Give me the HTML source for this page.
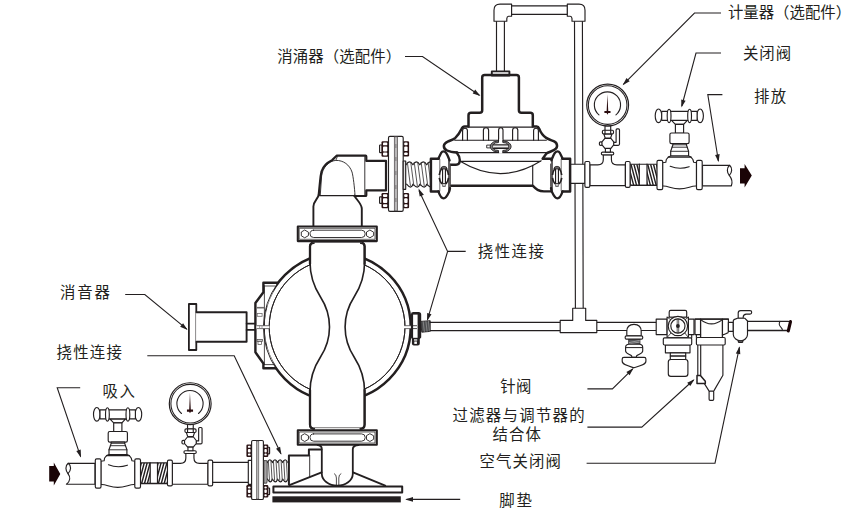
<!DOCTYPE html>
<html lang="zh">
<head>
<meta charset="utf-8">
<title>泵安装示意图</title>
<style>
html,body{margin:0;padding:0;background:#fff;}
body{width:852px;height:519px;overflow:hidden;font-family:"Liberation Sans",sans-serif;}
svg{display:block;position:absolute;left:0;top:0;}
.t{stroke:#231f20;stroke-width:1.15;fill:#fff;stroke-linejoin:round;stroke-linecap:round;}
.k{stroke:#231f20;stroke-width:2.4;fill:#fff;stroke-linejoin:round;stroke-linecap:round;}
.m{stroke:#231f20;stroke-width:1.5;fill:#fff;stroke-linejoin:round;stroke-linecap:round;}
.n{fill:none;}
.l{stroke:#231f20;stroke-width:1.1;fill:none;}
.b{fill:#231f20;stroke:none;}
.g{fill:#a7a5a6;}
.lbl{position:absolute;margin:0;color:#231f20;font-family:"Liberation Sans","Noto Sans CJK SC",sans-serif;font-size:15.4px;line-height:16px;letter-spacing:0.45px;white-space:nowrap;}
</style>
</head>
<body>
<svg width="852" height="519" viewBox="0 0 852 519" role="img" aria-label="气动隔膜泵安装示意图">
<defs>
<g id="valve">
  <!-- T handle -->
  <ellipse class="t" cx="-21" cy="-59.7" rx="3.3" ry="6.85"/>
  <ellipse class="t" cx="20.6" cy="-59.7" rx="3.3" ry="6.85"/>
  <path class="t" d="M-8,-55.2 L-4.1,-51.1 H4.1 L7.8,-55.2 Z"/>
  <rect class="t" x="-17.8" y="-64.2" width="35.4" height="9"/>
  <ellipse class="t" cx="-10.4" cy="-59.6" rx="1.9" ry="6.7"/>
  <ellipse class="t" cx="10.1" cy="-59.6" rx="1.9" ry="6.7"/>
  <rect class="t" x="-4.1" y="-51.1" width="8.2" height="8.8"/>
  <rect class="t" x="-9.6" y="-42.5" width="19.2" height="10.6" rx="1.6"/>
  <!-- bonnet -->
  <path class="t" d="M-6.6,-31.9 V-30.6 L-8.8,-24.2 V-19.5 H9.1 V-24.2 L6.9,-30.6 V-31.9 Z"/>
  <path class="t n" d="M-6.6,-30.7 H6.9 M-7.5,-28.3 H7.8 M-8.8,-24.2 H9.1" style="stroke-width:0.9"/>
  <!-- body -->
  <path class="t" d="M-17,-12.8 L-13.7,-13.2 L-13.2,-16 L-11.2,-18.4 L-8.8,-19.5 H9.1 L11.5,-18.4 L13.4,-16 L14.2,-13.2 L17,-12.8 V10.6 C12,10 8,13.4 0,13.4 C-8,13.4 -12,10 -17,10.6 Z"/>
  <path class="t n" d="M-11.2,-18.4 H11.5"/>
  <path class="t n" d="M-9.3,-9.2 Q0,-5.6 9.6,-8.8"/>
  <rect class="t" x="-22.5" y="-15.2" width="5.7" height="29.3" rx="1.4"/>
  <rect class="t" x="17" y="-15.2" width="5.7" height="29.3" rx="1.4"/>
</g>
<g id="gauge">
  <!-- tee -->
  <path class="t" d="M-18.1,-10.7 H-10 Q-4.6,-10.7 -4.6,-16 V-20.8 H3.5 V-16 Q3.5,-10.7 9,-10.7 H17.5 V10.1 H-18.1 Z"/>
  <rect class="t" x="-23" y="-14" width="4.9" height="25.8" rx="1.3"/>
  <rect class="t" x="17.5" y="-14" width="4.7" height="25.8" rx="1.3"/>
  <rect class="t" x="-6.5" y="-23.4" width="12.3" height="2.8" rx="1.2"/>
  <rect class="t" x="-2.5" y="-27.2" width="5" height="3.8"/>
  <!-- small ball valve -->
  <rect class="t" x="-8.5" y="-33.7" width="3" height="3.6" rx="1.2"/>
  <path class="t" d="M5.6,-33.2 H8.2 V-45.6 Q8.2,-46.6 9.2,-46.6 H10.6 Q11.6,-46.6 11.6,-45.6 V-31.4 Q11.6,-30.2 10.4,-30.2 H5.6 Z"/>
  <path class="t" d="M-3,-37.1 H3 L5.8,-33.6 V-30.6 L3,-27.2 H-3 L-5.9,-30.6 V-33.6 Z"/>
  <path class="t" d="M-4.1,-41.6 L-2.7,-37.5 H2.7 L4.1,-41.6 Z"/>
  <rect class="t" x="-2.9" y="-49.6" width="5.7" height="4.6"/>
  <rect class="t" x="-5.5" y="-45.3" width="11.1" height="3.7" rx="1.2"/>
  <path class="t n" d="M-2.9,-45.3 V-41.6 M2.8,-45.3 V-41.6"/>
  <!-- dial -->
  <circle class="t" cx="-0.25" cy="-70.45" r="20.9" style="stroke-width:1.2"/>
  <circle class="t" cx="-0.25" cy="-70.45" r="19.3" style="stroke-width:1.05"/>
  <path class="t n" d="M-8.95,-60.6 A13.1,13.1 0 1 1 8.05,-60.6" style="stroke-width:1.1"/>
  <path d="M-0.5,-81.2 L-1.25,-64.6 H-3.5 V-62.4 H-1.3 L-0.45,-60.8 L0.4,-62.4 H2.6 V-64.6 H0.35 Z" fill="#2a0d0f"/>
</g>
</defs>
<g id="ventloop">
  <path class="t n" d="M574.5,21 L575.4,308.2 M582.4,21 L583.2,308.2"/>
  <path class="t n" d="M496.5,21 V71 M504.4,21 V71"/>
  <rect class="t" x="511" y="5.8" width="56.5" height="8.5"/>
  <path class="t" d="M494,21.2 V10.2 Q494,4.2 500,4.2 H511.6 V16.2 H508.6 Q507,16.4 506.8,18.6 V21.2 Z"/>
  <path class="t" d="M585,21.2 V10.2 Q585,4.2 579,4.2 H567.3 V16.2 H570.2 Q571.8,16.4 572,18.6 V21.2 Z"/>
</g>
<g id="discharge">
  <rect class="t" x="570.4" y="164.2" width="14.6" height="19.1"/>
  <rect class="t" x="630" y="164.2" width="27.4" height="21.2"/>
<clipPath id="h1"><rect x="630.3" y="164.2" width="9.00" height="21.20"/></clipPath><path d="M622.30,164.2 L627.90,185.4 M625.20,164.2 L630.80,185.4 M628.10,164.2 L633.70,185.4 M631.00,164.2 L636.60,185.4 M633.90,164.2 L639.50,185.4 M636.80,164.2 L642.40,185.4 M639.70,164.2 L645.30,185.4 M642.60,164.2 L648.20,185.4 M645.50,164.2 L651.10,185.4 " clip-path="url(#h1)" style="stroke:#231f20;stroke-width:1.4;fill:none"/>
<clipPath id="h2"><rect x="647" y="164.2" width="10.40" height="21.20"/></clipPath><path d="M639.00,164.2 L644.60,185.4 M641.90,164.2 L647.50,185.4 M644.80,164.2 L650.40,185.4 M647.70,164.2 L653.30,185.4 M650.60,164.2 L656.20,185.4 M653.50,164.2 L659.10,185.4 M656.40,164.2 L662.00,185.4 M659.30,164.2 L664.90,185.4 M662.20,164.2 L667.80,185.4 M665.10,164.2 L670.70,185.4 " clip-path="url(#h2)" style="stroke:#231f20;stroke-width:1.4;fill:none"/>
  <path class="t n" d="M639.3,164.2 V185.4 M647,164.2 V185.4" style="stroke-width:1.2"/>
  <path class="t n" d="M630,185.4 H657.4" style="stroke-width:1.4"/>
  <use href="#gauge" x="607.9" y="175.5"/>
  <path class="t" d="M702.5,165.3 H729.6 C726.5,168 726.8,172.5 729.3,175.4 C731.8,178.6 732.6,182.6 731.4,185.8 H702.5 Z"/>
  <path class="t n" d="M729.6,165.3 C732.6,168 732.2,172.5 729.3,175.4"/>
  <use href="#valve" x="679.5" y="175.5"/>
  <path class="b" d="M740,168.2 H744.6 V164 L751.8,175.6 L744.6,187.4 V183.4 H740 Z" style="fill:#1a0406"/>
</g>
<g id="dampener">
  <!-- cap -->
  <rect class="k" x="491.8" y="71.4" width="17.6" height="4.2" style="stroke-width:1.9"/>
  <!-- lower body -->
  <path class="k n" d="M451.2,185.7 H532.7 C534.5,187.6 536,189.1 537.6,189.9 C539.6,191 542,191.4 544,191.4 H551.5"/>
  <path class="k n" d="M546.6,153.3 L542.6,158.8 H552.5"/>
  <path class="t n" d="M532.7,165.4 V185.7"/>
  <!-- thin horizontals -->
  <path class="t n" d="M468.5,127.1 H532.8 M454.8,140.2 H546.3 M457.2,152.6 H547.1 M460.6,161.4 H540.2"/>
  <path class="t n" d="M460.6,161.6 Q501,186 541.2,160.8"/>
  <!-- ribs -->
  <path class="t n" d="M462.6,140.2 V130.6 Q462.6,128.2 465,128.2 Q467.4,128.2 467.4,130.6 V140.2 M483.4,140.2 V130.2 Q483.4,127.7 486,127.7 Q488.6,127.7 488.6,130.2 V140.2 M512.6,140.2 V130.2 Q512.6,127.7 515.2,127.7 Q517.8,127.7 517.8,130.2 V140.2 M533.6,140.2 V130.6 Q533.6,128.2 536,128.2 Q538.4,128.2 538.4,130.6 V140.2"/>
  <path class="t n" d="M498.6,141 V130.2 Q498.6,127.7 500.8,127.7 Q503,127.7 503,130.2 V141"/>
  <!-- centre band bolt -->
  <rect x="499.1" y="139" width="3.2" height="14.6" fill="#fff"/>
  <rect x="487.1" y="145.1" width="3.4" height="2.8" class="t" style="stroke-width:0.9"/>
  <path d="M498.5,140.9 L493.8,141.8 C491.6,143 490.2,144.8 490.2,146.5 C490.2,148.2 491.6,150 493.8,151.2 L498.5,152.1 L498.5,150.5 L495.2,150 C493.6,149.3 492.8,148 492.8,146.5 C492.8,145 493.6,143.7 495.2,143 L498.5,142.5 Z" fill="#7f7d7e" stroke="#231f20" stroke-width="0.9" stroke-linejoin="round"/>
  <path d="M 502.8,140.9 L 507.5,141.8 C 509.7,143 511.1,144.8 511.1,146.5 C 511.1,148.2 509.7,150 507.5,151.2 L 502.8,152.1 L 502.8,150.5 L 506.1,150 C 507.7,149.3 508.5,148 508.5,146.5 C 508.5,145 507.7,143.7 506.1,143 L 502.8,142.5 Z" fill="#7f7d7e" stroke="#231f20" stroke-width="0.9" stroke-linejoin="round"/>
  <rect x="493.4" y="144.9" width="14.6" height="3.5" fill="#fff" stroke="none"/>
  <rect x="493.4" y="146.8" width="14.6" height="1.5" fill="#9a9899" stroke="none"/>
  <path class="t n" d="M493.2,144.9 H508.2 M493.2,148.4 H508.2" style="stroke-width:1.1"/>
  <!-- upper silhouette -->
  <path class="k n" style="stroke-width:2.5" d="M457.2,152.6 C453,152.4 449,151.5 447,150.5 C445,149.5 443.7,147.6 443.9,145.6 C444.2,143.6 445.5,142.7 447.7,141.7 C450,140.6 453,139.6 455.3,137.9 C458,135.5 460,132.2 461.2,129.6 C462,127.6 462.8,126.6 464.6,126.6 H468.5 V115.3 Q468.5,112.8 471,112.8 H479.7 Q482.2,112.8 482.2,110.3 V77.6 Q482.2,75.1 484.7,75.1 H516.4 Q518.9,75.1 518.9,77.6 V110.3 Q518.9,112.8 521.4,112.8 H530.3 Q532.8,112.8 532.8,115.3 V126.6 H536.6 Q538.4,126.6 539.2,128.6 C540.3,131.5 543,135.8 546.2,137.9 C548.6,139.5 552,140.4 553.7,141.2 C556,142.3 557.3,144 557,146.4 C556.8,148.2 555.5,149.4 553.7,150.2 C551.5,151.3 549.5,152.2 547.1,153"/>
  <!-- left lobe -->
  <path class="k n" style="stroke-width:2.4" d="M456.6,152.6 C458.4,154.8 459.8,157.8 459.8,160 C459.8,163 458.2,164.7 456,164.7 H450.8"/>
</g>
<g id="clampL">
  <path d="M430.9,158.8 H438.3 L441.1,153 Q443.5,150 446.3,153 L449.6,160.6 L450.3,164 V186 L449,192 Q446,198.4 443.6,198.4 Q441,198.4 438.4,191.4 H430.9 Z" fill="#fff" stroke="none"/>
  <path class="k n" d="M438.8,158.8 H430.9 V191.4 H438.8" style="stroke-width:2.5"/>
  <path class="k n" d="M438.3,158.8 C439.3,157 440.2,154.6 441,153.2 C441.8,151.9 442.7,151.4 443.4,151.4 C444.2,151.4 445.3,151.9 446.2,153 C447.5,154.8 448.8,158.3 449.6,160.4" style="stroke-width:2.3"/>
  <path class="k n" d="M450,188 C449.8,189.6 449.5,191 449,192 C447.8,194.6 445.5,198.4 443.6,198.4 C441.8,198.4 439.6,195 438.4,191.4" style="stroke-width:2.3"/>
  <path class="t n" d="M439.8,159.4 V190.8" style="stroke-width:0.9;stroke:#5d5a5b"/>
  <path class="t n" d="M449,160 V190.4" style="stroke-width:1.4"/>
  <path class="t n" d="M450.4,164 V186.4" style="stroke-width:0.8"/>
  <rect x="442.5" y="168" width="3" height="15.5" fill="#fff" stroke="#231f20" stroke-width="1"/>
  <path d="M444,168.6 V183" stroke="#c4c2c3" stroke-width="1" fill="none"/>
  <path d="M440.9,169 Q440.9,166.3 444,166.3 Q447.1,166.3 447.1,169 Z" fill="#6a6869" stroke="#231f20" stroke-width="0.8"/>
  <rect x="442.8" y="183.5" width="2.4" height="2.8" fill="#fff" stroke="#3d3a3b" stroke-width="0.9"/>
  <path class="m n" d="M441.7,168.4 Q439.6,171.6 439.3,175 M439.3,177.8 Q439.6,181 441.9,184 M446.1,168.4 Q448.2,171.6 448.5,175 M448.5,177.8 Q448.2,181 445.9,184" style="stroke-width:1.7;stroke-linecap:butt"/>
</g>
<use href="#clampL" transform="translate(1001,0) scale(-1,1)"/>
<g id="flangeTop">
<rect x="379.6" y="145" width="2.6" height="7.6" rx="0.6" class="t"/>
<rect x="379.6" y="196.8" width="2.6" height="6.6" rx="0.6" class="t"/>
<rect x="381.5" y="141.2" width="7.3" height="15.5" rx="1.2" fill="#2a1214"/><rect x="383.0" y="142.5" width="4.3" height="2.8" rx="0.9" fill="#fff"/><rect x="383.0" y="146.6" width="4.3" height="4.8" rx="0.9" fill="#fff"/><rect x="383.0" y="152.6" width="4.3" height="2.8" rx="0.9" fill="#fff"/>
<rect x="381.5" y="193.0" width="7.3" height="15.2" rx="1.2" fill="#2a1214"/><rect x="383.0" y="194.3" width="4.3" height="2.7" rx="0.9" fill="#fff"/><rect x="383.0" y="198.3" width="4.3" height="4.6" rx="0.9" fill="#fff"/><rect x="383.0" y="204.2" width="4.3" height="2.7" rx="0.9" fill="#fff"/>
<rect x="402.7" y="141.2" width="6.4" height="15.2" rx="1.2" fill="#2a1214"/><rect x="404.2" y="142.5" width="3.4" height="2.7" rx="0.9" fill="#fff"/><rect x="404.2" y="146.5" width="3.4" height="4.6" rx="0.9" fill="#fff"/><rect x="404.2" y="152.4" width="3.4" height="2.7" rx="0.9" fill="#fff"/>
<rect x="402.7" y="193.0" width="6.4" height="15.2" rx="1.2" fill="#2a1214"/><rect x="404.2" y="194.3" width="3.4" height="2.7" rx="0.9" fill="#fff"/><rect x="404.2" y="198.3" width="3.4" height="4.6" rx="0.9" fill="#fff"/><rect x="404.2" y="204.2" width="3.4" height="2.7" rx="0.9" fill="#fff"/>
<rect class="t" x="388.5" y="136.3" width="14.7" height="75" rx="1.4"/>
<rect x="394.3" y="136.8" width="3.2" height="74" fill="#b9b7b8" stroke="#4a4647" stroke-width="0.7"/>
<path d="M395.9,144 V148 M395.9,157 V161 M395.9,171 V175 M395.9,185 V189 M395.9,198 V202" stroke="#6b6768" stroke-width="0.8" fill="none"/>
<rect class="t" x="403.2" y="161" width="2.5" height="28.3" style="fill:#e4e3e3"/>
<clipPath id="fx1"><rect x="405.4" y="158.8" width="24.8" height="31.4"/></clipPath><g clip-path="url(#fx1)"><path class="t n" d="M406.0,164.8 Q409.5,159.0 412.9,164.8 Q416.4,159.0 419.8,164.8 Q423.3,159.0 426.7,164.8 Q430.2,159.0 433.7,164.8 M406.6,184.2 Q411.3,190.0 412.9,184.2 Q418.2,190.0 419.8,184.2 Q425.1,190.0 426.7,184.2 Q432.0,190.0 433.7,184.2 " style="stroke-width:1.15;stroke:#231f20"/><path class="t n" d="M407.4,162.6 L410.4,185.6 M410.8,162.6 L413.8,185.6 M414.3,162.6 L417.3,185.6 M417.8,162.6 L420.8,185.6 M421.2,162.6 L424.2,185.6 M424.7,162.6 L427.7,185.6 M428.1,162.6 L431.1,185.6 M431.6,162.6 L434.6,185.6 " style="stroke-width:0.9;stroke:#454243"/></g>
</g>
<g id="pump">
<path class="k n" d="M196.4,312.2 H246.6 V341.8 H196.4" style="stroke-width:1.9"/>
<path class="k n" d="M196.3,312.2 V304 H188.9 V350 H196.3 V341.8" style="stroke-width:1.8"/>
<path class="t n" d="M195.6,312.2 V341.8" style="stroke-width:0.8;stroke:#6d6a6b"/>
<path class="k n" d="M246.6,323.6 H255.4 M246.6,329.9 H255.4" style="stroke-width:1.7"/>
<circle class="k n" cx="337.1" cy="327.0" r="73.6" style="stroke-width:2.5"/>
<circle class="t n" cx="337.1" cy="327.0" r="67.9" style="stroke-width:0.95"/>
<path d="M277.2,282.7 H263.4 V292.2 L255.4,303 V352.2 L263.4,363.5 V368.3 H275.9 L272,360 L266,345 L263.6,327 L266,309 L272,294 Z" fill="#fff" stroke="none"/>
<path class="t n" d="M277.6,283.4 A73.9,73.9 0 0 0 276.6,369.4" style="stroke-width:0.95"/>
<circle class="t n" cx="337.1" cy="327.0" r="67.9" style="stroke-width:0.95"/>
<path class="k n" d="M277.4,282.7 H263.4 V292.2 L255.4,303 V352.2 L263.4,363.5 V368.3 H275.9" style="stroke-width:2.4"/>
<path class="t n" d="M264.4,285.8 V364.6 M264.4,286 H275.2 M264.4,364.6 H273.8" style="stroke-width:0.8"/>
<path d="M256.8,307.7 H264" stroke="#6d6a6b" stroke-width="1.6" fill="none"/>
<rect x="257.2" y="313.4" width="4.9" height="2.9" fill="#fff" stroke="#6d6a6b" stroke-width="0.8"/>
<rect x="257" y="339.4" width="5.4" height="2" fill="#c9c8c8" stroke="#4a4647" stroke-width="0.7"/>
<rect x="258" y="341.4" width="3.4" height="3.2" fill="#fff" stroke="#4a4647" stroke-width="0.7"/>
<rect x="256.4" y="325.6" width="13" height="3.1" fill="#fff" stroke="none"/>
<path class="t n" d="M257,325.7 H269.4 M257,328.6 H269.4" style="stroke-width:0.8;stroke:#4a4647"/>
<path d="M259.6,325.7 V328.6 M262,325.7 V328.6" stroke="#8a8788" stroke-width="0.8"/>
<rect x="404" y="325.7" width="9" height="2.9" fill="#fff"/>
<path class="t n" d="M404.6,325.7 H413 M404.6,328.6 H413" style="stroke-width:0.8;stroke:#4a4647"/>
<path d="M410.9,314.4 Q410.9,312 413.3,312 H418.6 Q421.2,312 421.2,314.6 V337.4 L419.8,339 V343.6 Q419.8,345.6 417.8,345.6 H413.9 Q411.9,345.6 411.9,343.6 V339 L410.9,337.6 Z" fill="#231f20"/>
<rect x="413.1" y="314.6" width="4.5" height="23.2" fill="#fff"/>
<path class="t n" d="M413.1,325.7 H416.6 M413.1,328.6 H416.6" style="stroke-width:0.8"/>
<rect x="414" y="339" width="3.2" height="1.9" fill="#b5b3b4"/>
<rect x="414.3" y="341.5" width="2.6" height="2.4" fill="#fff"/>
<path d="M420.6,321.4 L430.2,320.7 L430.2,331.4 L421.8,332.2 Z" fill="#4d4e50" stroke="#231f20" stroke-width="0.9"/>
<path d="M423.2,321.4 L424.4,331.9 M425.9,321.2 L427.1,331.7 M428.4,321 L429.5,331.5" stroke="#9a9999" stroke-width="0.7" fill="none"/>
<path d="M310,244.8 Q310,242.8 312,242.8 H362.6 Q364.6,242.8 364.6,244.8 V262 C364.6,276 360.6,287 354.1,297 C349.1,304.7 345.1,315 345.1,327 C345.1,339 349.1,349.3 354.1,357 C360.6,367 364.6,378 364.6,392 V424 Q364.6,428.4 360.4,428.4 H314.2 Q310,428.4 310,424 V392 C310,378 314,367 320.5,357 C325.5,349.3 329.5,339 329.5,327 C329.5,315 325.5,304.7 320.5,297 C314,287 310,276 310,262 Z" fill="#fff" stroke="none"/>
<path class="k n" d="M313.6,242.9 Q310,243 310,246.4 V262 C310,276 314,287 320.5,297 C325.5,304.7 329.5,315 329.5,327 C329.5,339 325.5,349.3 320.5,357 C314,367 310,378 310,392 V424.6 Q310,428.6 314,428.8 M361.0,242.9 Q364.6,243 364.6,246.4 V262 C364.6,276 360.6,287 354.1,297 C349.1,304.7 345.1,315 345.1,327 C345.1,339 349.1,349.3 354.1,357 C360.6,367 364.6,378 364.6,392 V424.6 Q364.6,428.6 360.6,428.8" style="stroke-width:1.6"/>
<path class="k n" d="M310,246 V264 M364.6,246 V264 M310,390 V424.6 Q310,428.6 314,428.8 M364.6,390 V424.6 Q364.6,428.6 360.6,428.8 M313.6,242.9 Q310,243 310,246.4 M361.0,242.9 Q364.6,243 364.6,246.4" style="stroke-width:2.3"/>
<path class="t n" d="M313,242.4 H361.6 M314,427.7 H360.6" style="stroke-width:0.8;stroke:#5a5758"/>
<path d="M318.7,195.9 C316,199 314,203 314,206.5 V226.4 H362.2 V207.6 C362.2,203 358,198.5 355,195.9 Z" fill="#fff" stroke="none"/>
<path class="k n" d="M318.9,194.4 C318.4,198.2 313.6,201 313.4,206.5 V226.4 M354.4,195.6 C356,199.5 361.4,203 361.8,208.6 V226.4" style="stroke-width:1.9"/>
<path class="k n" d="M318.7,195 L320.1,181.2 C320.5,177 320.8,174.5 321.5,171.7 C322.4,168.8 323.6,166.9 325.3,165.1 C327,163.2 329.6,161.3 332.4,159.9 L336.6,155.7 H365.6 Q366.3,155.7 366.3,156.4 V160.9 H386 V190.4 H366.3 V195.2 Q366.3,196 365.5,196 H354.5" style="stroke-width:2.2"/>
<path class="t n" d="M319.6,195.6 H354.6" style="stroke-width:1.1"/>
<path class="t n" d="M320.3,194.8 L321.6,176 C322.5,168 328.5,161 335.7,160.4 C343.5,160.2 349.5,164.8 352,172 C353.2,176 354.6,188 355,195.3" style="stroke-width:0.9"/>
<path class="t n" d="M364.8,156.6 V195.2" style="stroke-width:0.9"/>
<path class="t n" d="M335.9,160.2 L337.4,156.6" style="stroke-width:0.8"/>
<rect class="k" x="297.8" y="226.5" width="79" height="14.6" style="stroke-width:2.1"/><rect class="t n" x="299.6" y="228.3" width="75.4" height="11" style="stroke-width:0.7"/><rect class="t" x="310" y="230.2" width="55.2" height="7.3" rx="3.65" style="stroke-width:0.9"/><polygon class="t" points="308.1,235.8 304.7,237.8 301.3,235.8 301.3,232.0 304.7,230.0 308.1,232.0" style="stroke-width:0.9"/><polygon class="t" points="373.3,235.8 369.9,237.8 366.5,235.8 366.5,232.0 369.9,230.0 373.3,232.0" style="stroke-width:0.9"/>
<path class="k" d="M318.2,445.2 H321.8 V474 C322,480.5 329,485.6 337.3,485.6 C345.6,485.6 352.6,480.5 352.8,474 V445.2 Z" style="stroke:none"/>
<path class="k n" d="M288.9,484.6 V455.4 H308.9 V449.5 H321.4" style="stroke-width:2"/>
<path class="t n" d="M309.7,455.4 V477.2" style="stroke-width:0.9"/>
<path class="k n" d="M289.4,485.2 L321.6,472.4 M353,472.4 L385.2,485.6" style="stroke-width:1.9"/>
<path class="k n" d="M317.6,445 Q321.8,445.4 321.8,449 V474 C322,480.5 329,485.6 337.3,485.6 C345.6,485.6 352.6,480.5 352.8,474 V449 Q352.8,445.4 358.6,445" style="stroke-width:1.8"/>
<path class="t n" d="M334.4,473.7 Q336.4,474.4 336.4,478 V485 M340.9,473.7 Q338.8,474.4 338.8,478 V485" style="stroke-width:0.8"/>
<rect class="k" x="273.4" y="486.4" width="128.8" height="6.2" style="stroke-width:2"/>
<rect class="b" x="272.4" y="496.3" width="128.4" height="6.1" style="fill:#231f20"/>
<rect class="k" x="297.8" y="430.2" width="79" height="14.6" style="stroke-width:2.1"/><rect class="t n" x="299.6" y="432.0" width="75.4" height="11" style="stroke-width:0.7"/><rect class="t" x="310" y="433.9" width="55.2" height="7.3" rx="3.65" style="stroke-width:0.9"/><polygon class="t" points="308.1,439.5 304.7,441.5 301.3,439.5 301.3,435.6 304.7,433.7 308.1,435.6" style="stroke-width:0.9"/><polygon class="t" points="373.3,439.5 369.9,441.5 366.5,439.5 366.5,435.6 369.9,433.7 373.3,435.6" style="stroke-width:0.9"/>
</g>
<g id="suction">
<path class="b" d="M49.2,466 H53.8 V462.6 L60.3,473.9 L53.8,485.6 V481.6 H49.2 Z" style="fill:#1a0406"/>
<path class="t" d="M95,463.3 H68.2 C65,465.8 65.4,470.4 68,473.6 C70.4,476.8 70.6,481 66.4,484.2 H95 Z"/>
<path class="t n" d="M68.2,463.3 C71.6,465.8 71.2,470.4 68,473.6"/>
<rect class="t" x="140.4" y="462.8" width="27.3" height="20.7"/>
<clipPath id="h3"><rect x="140.7" y="462.8" width="9.50" height="20.70"/></clipPath><path d="M132.70,462.8 L127.10,483.5 M135.60,462.8 L130.00,483.5 M138.50,462.8 L132.90,483.5 M141.40,462.8 L135.80,483.5 M144.30,462.8 L138.70,483.5 M147.20,462.8 L141.60,483.5 M150.10,462.8 L144.50,483.5 M153.00,462.8 L147.40,483.5 M155.90,462.8 L150.30,483.5 " clip-path="url(#h3)" style="stroke:#231f20;stroke-width:1.4;fill:none"/>
<clipPath id="h4"><rect x="157.5" y="462.8" width="9.90" height="20.70"/></clipPath><path d="M149.50,462.8 L143.90,483.5 M152.40,462.8 L146.80,483.5 M155.30,462.8 L149.70,483.5 M158.20,462.8 L152.60,483.5 M161.10,462.8 L155.50,483.5 M164.00,462.8 L158.40,483.5 M166.90,462.8 L161.30,483.5 M169.80,462.8 L164.20,483.5 M172.70,462.8 L167.10,483.5 " clip-path="url(#h4)" style="stroke:#231f20;stroke-width:1.4;fill:none"/>
<path class="t n" d="M150.2,462.8 V483.5 M157.5,462.8 V483.5" style="stroke-width:1.2"/>
<path class="t n" d="M140.4,483.5 H167.7" style="stroke-width:1.4"/>
<use href="#valve" x="117.8" y="474"/>
<use href="#gauge" x="190.45" y="474.1"/>
<path class="t n" d="M212.6,462.4 H248.3 M212.6,482.4 H248.3"/>
<rect class="t" x="248.3" y="460.4" width="3.3" height="24"/>
<rect x="267.6" y="447.2" width="2" height="6.6" rx="0.6" class="t"/>
<rect x="267.6" y="488" width="2" height="6.6" rx="0.6" class="t"/>
<rect x="246.4" y="444.5" width="5.7" height="12.4" rx="1.2" fill="#2a1214"/><rect x="247.9" y="445.8" width="2.7" height="2.0" rx="0.9" fill="#fff"/><rect x="247.9" y="449.0" width="2.7" height="3.4" rx="0.9" fill="#fff"/><rect x="247.9" y="453.6" width="2.7" height="2.0" rx="0.9" fill="#fff"/>
<rect x="246.4" y="485.1" width="5.7" height="12.4" rx="1.2" fill="#2a1214"/><rect x="247.9" y="486.4" width="2.7" height="2.0" rx="0.9" fill="#fff"/><rect x="247.9" y="489.6" width="2.7" height="3.4" rx="0.9" fill="#fff"/><rect x="247.9" y="494.2" width="2.7" height="2.0" rx="0.9" fill="#fff"/>
<rect x="262.9" y="444.5" width="5.4" height="12.4" rx="1.2" fill="#2a1214"/><rect x="264.4" y="445.8" width="2.4" height="2.0" rx="0.9" fill="#fff"/><rect x="264.4" y="449.0" width="2.4" height="3.4" rx="0.9" fill="#fff"/><rect x="264.4" y="453.6" width="2.4" height="2.0" rx="0.9" fill="#fff"/>
<rect x="262.9" y="485.1" width="5.4" height="12.4" rx="1.2" fill="#2a1214"/><rect x="264.4" y="486.4" width="2.4" height="2.0" rx="0.9" fill="#fff"/><rect x="264.4" y="489.6" width="2.4" height="3.4" rx="0.9" fill="#fff"/><rect x="264.4" y="494.2" width="2.4" height="2.0" rx="0.9" fill="#fff"/>
<rect class="t" x="251.6" y="440.5" width="11.8" height="59" rx="1.3"/>
<rect x="256.6" y="441" width="2.2" height="58" fill="#b9b7b8" stroke="#4a4647" stroke-width="0.6"/>
<path d="M263.9,460.6 H266.7 L267.2,462.4 V481 L266.7,483.2 H263.9 Z" fill="#a5a3a4" stroke="#231f20" stroke-width="0.7"/>
<clipPath id="fx2"><rect x="266.7" y="456.6" width="21.1" height="28.4"/></clipPath><g clip-path="url(#fx2)"><path class="t n" d="M267.3,462.6 Q269.9,456.8 272.4,462.6 Q275.0,456.8 277.6,462.6 Q280.1,456.8 282.7,462.6 Q285.2,456.8 287.8,462.6 M267.5,479.0 Q270.6,484.8 272.4,479.0 Q275.7,484.8 277.6,479.0 Q280.8,484.8 282.7,479.0 Q286.0,484.8 287.8,479.0 " style="stroke-width:1.15;stroke:#231f20"/><path class="t n" d="M268.3,460.4 L269.5,480.4 M270.9,460.4 L272.1,480.4 M273.4,460.4 L274.6,480.4 M276.0,460.4 L277.2,480.4 M278.6,460.4 L279.8,480.4 M281.1,460.4 L282.3,480.4 M283.7,460.4 L284.9,480.4 M286.3,460.4 L287.5,480.4 " style="stroke-width:0.9;stroke:#454243"/></g>
</g>
<g id="airline">
<path class="t n" d="M430.2,322.4 H560.2 M430.2,330.6 H560.2 M596.8,322.4 H656.2 M596.8,330.5 H656.2"/>
<path class="t" d="M572.7,308.2 H585.7 V320.4 H596.8 V332.6 H560.2 V320.4 H572.7 Z"/>
<path class="t" d="M626.8,335.8 V331.4 Q626.8,324.3 634,324.3 Q641.2,324.3 641.2,331.4 V335.8 Z"/>
<rect class="t" x="625.2" y="335.8" width="17.5" height="3.3" rx="1.2"/>
<rect x="628.7" y="339.6" width="11.3" height="4.6" fill="#55565a" stroke="#231f20" stroke-width="0.7"/>
<path d="M629,342.6 L639.8,340.4 M629,344 L639.8,342" stroke="#c8c8c8" stroke-width="0.6" fill="none"/>
<path class="t" d="M625.6,347.4 Q625.6,344.2 629,344.2 H639.3 Q642.7,344.2 642.7,347.4 V351 C642.7,353.8 637.6,354.4 636.6,355.8 L636.3,357.4 H631.9 L631.6,355.8 C630.6,354.4 625.6,353.8 625.6,351 Z"/>
<path class="t n" d="M625.8,347.6 H642.5" style="stroke-width:1"/>
<path class="t" d="M622.2,359 Q622.2,357.3 623.9,357.3 H644.2 Q645.9,357.3 645.9,359 V361.3 C645.9,364.6 640,366 634,367.8 C628,366 622.2,364.6 622.2,361.3 Z"/>
<rect class="t" x="656.2" y="319.1" width="10.9" height="15.5"/>
<rect class="t" x="688.4" y="319.1" width="5.6" height="15.5"/>
<rect class="t" x="669.2" y="310.4" width="17.5" height="7" rx="1.5"/>
<rect class="t" x="667.1" y="317.2" width="21.3" height="20.3"/>
<path class="t n" d="M667.1,317.2 L670.6,319.6 M688.4,317.2 L685.2,319.6 M667.1,337.5 L671,333 M688.4,337.5 L684.8,333" style="stroke-width:0.8"/>
<circle class="t" cx="677.9" cy="326" r="9.7" style="stroke-width:1.15"/>
<circle class="t" cx="677.9" cy="326" r="7.1"/>
<path class="t n" d="M677.2,319.2 V332.8 M678.7,319.2 V332.8" style="stroke-width:0.7"/>
<circle cx="677.9" cy="326" r="1.9" fill="#231f20"/>
<rect class="t" x="665.4" y="345" width="24.6" height="7.8"/>
<rect class="t" x="663.3" y="337.8" width="28.4" height="7.2" rx="1.2"/>
<rect class="t" x="670.3" y="352.8" width="15.4" height="3.3"/>
<rect class="t" x="670.3" y="356.1" width="15.4" height="3.4"/>
<rect class="t" x="668.3" y="359.5" width="19.6" height="16.8" rx="2.6"/>
<path class="t" d="M700.6,334.6 H695 V319.1 H728.4 V331.4 Q728.4,333 726.4,333.4 L724,334.6 H722.4"/>
<path class="t n" d="M695,319.1 H728.4" />
<path class="t n" d="M691.7,334.6 V337.8 M696.4,334.6 V337.8"/>
<path class="t n" d="M700.6,319.1 V337.5 M722.4,319.1 V337.5" style="stroke-width:1.3"/>
<path class="t n" d="M700.6,319.6 Q711.5,328.2 722.4,319.6"/>
<path class="t n" d="M697.8,345 V375.2 M700.7,345 V375.2 M722.9,345 V375.2 L713.7,391.1 M704.4,383.6 L709.1,391.1"/>
<rect class="t" x="696.4" y="337.5" width="28.8" height="7.5" rx="1.2"/>
<path class="m" d="M697,375.4 H700.4 L705.3,381.2 V383.5 H697 Z" style="stroke-width:1.5"/>
<rect class="t" x="709.1" y="391.1" width="4.6" height="9.2" rx="1"/>
<rect class="t" x="728.4" y="322.4" width="4.9" height="8.9"/>
<path class="t" d="M747.5,321.4 H788.4 M747.5,330.5 H788.1" style="stroke-width:1.4"/>
<path class="t n" d="M780,321.4 C778.4,324 779.6,326 781,327.4 C782,328.4 782.6,329.4 782.4,330.5" style="stroke-width:1.05"/>
<path d="M790.5,321.6 L788.3,330.9" stroke="#1a0406" stroke-width="3.1" fill="none" stroke-linecap="round"/>
<path class="t" d="M738.2,318.2 V313 Q738.2,310.6 740.6,310.6 H750 Q751.7,310.6 751.7,312.35 Q751.7,314.1 750,314.1 H746.4 Q743.3,314.2 743.2,317 V318.2 Z"/>
<path class="t" d="M733.3,320.6 L734,319.6 L737.4,318.2 H744.7 L747.5,321 V334.8 C747.4,338 744,340.8 740.8,340.8 C737,340.8 733.4,338 733.3,334.8 Z"/>
<rect class="t" x="738.3" y="340.8" width="4.5" height="1.5" rx="0.5"/>
</g>
<g id="leaders">
<path class="b" d="M480.4,95.9 L472.7,93.4 L475.2,89.6 Z"/>
<path class="b" d="M622.6,85.2 L626.5,78.1 L629.7,81.3 Z"/>
<path class="b" d="M681.4,107.6 L681.2,99.5 L685.6,100.7 Z"/>
<path class="b" d="M718.6,162.2 L715.1,154.9 L719.6,154.1 Z"/>
<path class="b" d="M418.5,188.6 L423.9,194.7 L419.7,196.6 Z"/>
<path class="b" d="M427.1,321.0 L427.1,312.9 L431.5,314.2 Z"/>
<path class="b" d="M187.6,329.9 L180.1,326.7 L183.1,323.2 Z"/>
<path class="b" d="M281.4,454.8 L276.0,448.7 L280.1,446.8 Z"/>
<path class="b" d="M81.0,457.6 L76.3,451.0 L80.7,449.5 Z"/>
<path class="b" d="M633.6,368.1 L629.6,375.2 L626.4,371.9 Z"/>
<path class="b" d="M694.5,379.2 L690.3,386.1 L687.2,382.7 Z"/>
<path class="b" d="M739.7,346.2 L740.3,354.3 L735.8,353.4 Z"/>
<path class="b" d="M405.2,499.4 L413.0,497.1 L413.0,501.7 Z"/>
<path class="l" d="M405,56.5 H422.5 L479.4,95.2 M721,13 H694.5 L623.4,84.4 M721,53 H696 L681.8,106 M722.4,94.6 H707.8 L718.4,161 M465.7,251.4 H447.6 L418.9,190.6 M447.6,251.4 L427.4,319.8 M125.2,294.5 H144.8 L186.8,329.2 M147.3,355.7 H234.2 L281,453.8 M80.2,387.8 H57.2 L80.6,456.6 M587.4,388.9 H612.4 L632.8,368.9 M587.4,427.1 H641.8 L693.6,380 M586.6,463.2 H715 L739.4,347.4 M460.2,499.4 H406.5"/>
</g>
</svg>
<p class="lbl" style="left:277.3px;top:48.5px;letter-spacing:0.09px">消涌器（选配件）</p>
<p class="lbl" style="left:727.9px;top:5.1px;letter-spacing:0.02px">计量器（选配件）</p>
<p class="lbl" style="left:743.0px;top:45.5px;letter-spacing:0.97px">关闭阀</p>
<p class="lbl" style="left:754.0px;top:88.8px;letter-spacing:1.44px">排放</p>
<p class="lbl" style="left:477.7px;top:243.8px;letter-spacing:1.55px">挠性连接</p>
<p class="lbl" style="left:60.1px;top:285.2px;letter-spacing:1.77px">消音器</p>
<p class="lbl" style="left:56.5px;top:345.3px;letter-spacing:1.28px">挠性连接</p>
<p class="lbl" style="left:102.4px;top:384.3px;letter-spacing:1.64px">吸入</p>
<p class="lbl" style="left:500.3px;top:379.1px;letter-spacing:0.34px">针阀</p>
<p class="lbl" style="left:452.5px;top:407.5px;letter-spacing:1.29px">过滤器与调节器的</p>
<p class="lbl" style="left:492.4px;top:426.8px;letter-spacing:1.17px">结合体</p>
<p class="lbl" style="left:479.6px;top:454.4px;letter-spacing:1.11px">空气关闭阀</p>
<p class="lbl" style="left:499.2px;top:492.9px;letter-spacing:2.04px">脚垫</p>
</body>
</html>
